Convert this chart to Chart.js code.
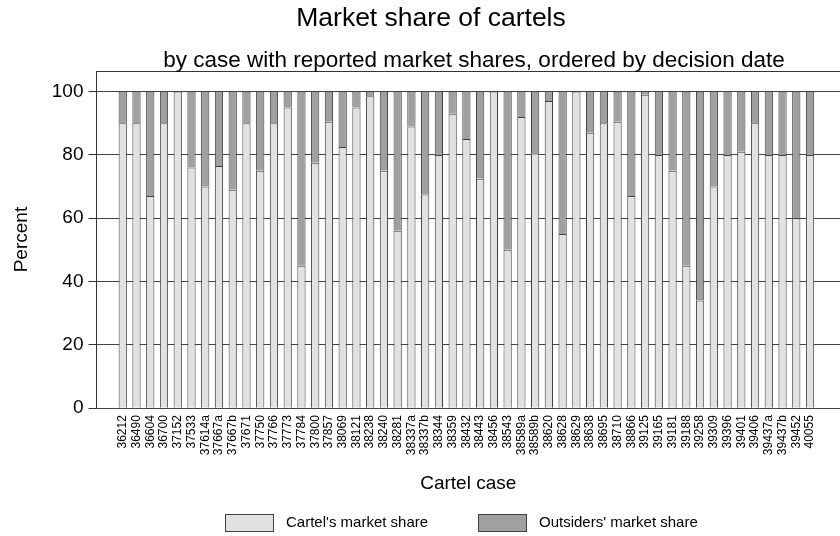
<!DOCTYPE html>
<html>
<head>
<meta charset="utf-8">
<script src="https://cdn.jsdelivr.net/npm/chart.js@4.4.0/dist/chart.umd.min.js"></script>
<style>
  html, body { margin: 0; padding: 0; background: #fff; }
  #wrap { width: 840px; height: 536px; }
</style>
</head>
<body>
<div id="wrap"><canvas id="chart"></canvas></div>
<script>
// cases ordered by decision date
const cases = ['36212', '36490', '36604', '36700', '37152', '37533', '37614a', '37667a', '37667b', '37671',
  '37750', '37766', '37773', '37784', '37800', '37857', '38069', '38121', '38238', '38240',
  '38281', '38337a', '38337b', '38344', '38359', '38432', '38443', '38456', '38543', '38589a',
  '38589b', '38620', '38628', '38629', '38638', '38695', '38710', '38866', '39125', '39165',
  '39181', '39188', '39258', '39309', '39396', '39401', '39406', '39437a', '39437b', '39452', '40055'];

const cartelShare = [90, 90, 67, 90, 100, 76, 70, 76.5, 69, 90,
  75, 90, 95, 45, 77.5, 90.5, 82.5, 95, 98.5, 75,
  56, 89, 67.5, 80, 93, 85, 72.5, 100, 50, 92,
  80.5, 97, 55, 100, 87, 90, 90.5, 67, 99, 80,
  75, 45, 34, 70, 80, 81, 90, 80, 80, 60, 80];

const outsiderShare = [10, 10, 33, 10, 0, 24, 30, 23.5, 31, 10,
  25, 10, 5, 55, 22.5, 9.5, 17.5, 5, 1.5, 25,
  44, 11, 32.5, 20, 7, 15, 27.5, 0, 50, 8,
  19.5, 3, 45, 0, 13, 10, 9.5, 33, 1, 20,
  25, 55, 66, 30, 20, 19, 10, 20, 20, 40, 20];

const yTicks = [0, 20, 40, 60, 80, 100];

const FONT = 'Liberation Sans, Arial, sans-serif';

function points(values) {
    return values.map((v, i) => ({ x: i, y: v }));
}

// title, subtitle, top frame line and legend
const decorations = {
    id: 'decorations',
    afterDraw(chart) {
        const ctx = chart.ctx;
        const area = chart.chartArea;
        ctx.save();

        ctx.strokeStyle = '#333';
        ctx.lineWidth = 1;
        ctx.beginPath();
        ctx.moveTo(area.left, Math.round(area.top) + 0.5);
        ctx.lineTo(area.right, Math.round(area.top) + 0.5);
        ctx.stroke();

        ctx.fillStyle = '#000';
        ctx.textAlign = 'center';
        ctx.textBaseline = 'middle';
        ctx.font = '26.5px ' + FONT;
        ctx.fillText('Market share of cartels', 431, 19);
        ctx.font = '22.5px ' + FONT;
        ctx.fillText('by case with reported market shares, ordered by decision date', 474, 61);

        // legend
        const legendX = [225, 478];
        ctx.font = '15px ' + FONT;
        ctx.textAlign = 'left';
        chart.data.datasets.forEach((ds, i) => {
            ctx.fillStyle = ds.backgroundColor;
            ctx.fillRect(legendX[i] + 0.5, 514.5, 48, 17);
            ctx.strokeStyle = ds.borderColor;
            ctx.strokeRect(legendX[i] + 0.5, 514.5, 48, 17);
            ctx.fillStyle = '#000';
            ctx.fillText(ds.label, legendX[i] + 61, 523);
        });
        ctx.restore();
    }
};

new Chart(document.getElementById('chart'), {
    type: 'bar',
    data: {
        datasets: [{
            label: "Cartel's market share",
            data: points(cartelShare),
            backgroundColor: '#e1e1e1',
            borderColor: '#404040',
            borderWidth: 1,
            barPercentage: 0.6,
            categoryPercentage: 1
        }, {
            label: "Outsiders' market share",
            data: points(outsiderShare),
            backgroundColor: '#a0a0a0',
            borderColor: '#404040',
            borderWidth: 1,
            barPercentage: 0.6,
            categoryPercentage: 1
        }]
    },
    options: {
        responsive: true,
        maintainAspectRatio: false,
        animation: false,
        layout: { padding: { top: 71, left: 10, right: 0, bottom: 41 } },
        plugins: {
            legend: { display: false },
            tooltip: { enabled: false }
        },
        scales: {
            x: {
                type: 'linear',
                stacked: true,
                offset: false,
                min: -1.91,
                max: 52.18,
                afterBuildTicks: scale => {
                    scale.ticks = cases.map((c, i) => ({ value: i }));
                },
                grid: { display: false, drawTicks: false },
                border: { display: false },
                ticks: {
                    autoSkip: false,
                    minRotation: 90,
                    maxRotation: 90,
                    padding: 7,
                    color: '#000',
                    font: { family: FONT, size: 12 },
                    callback: value => cases[value]
                },
                title: {
                    display: true,
                    text: 'Cartel case',
                    color: '#000',
                    font: { family: FONT, size: 19 },
                    padding: { top: 10, bottom: 0 }
                }
            },
            y: {
                stacked: true,
                min: 0,
                max: 106.5,
                afterBuildTicks: scale => {
                    scale.ticks = yTicks.map(v => ({ value: v }));
                },
                grid: { color: '#444', lineWidth: 1, tickLength: 8, tickColor: '#333' },
                border: { display: true, color: '#333', width: 1 },
                ticks: {
                    padding: 5,
                    color: '#000',
                    font: { family: FONT, size: 19 }
                },
                title: {
                    display: true,
                    text: 'Percent',
                    color: '#000',
                    font: { family: FONT, size: 19 },
                    padding: { top: 0, bottom: 14 }
                }
            }
        }
    },
    plugins: [decorations]
});
</script>
</body>
</html>
